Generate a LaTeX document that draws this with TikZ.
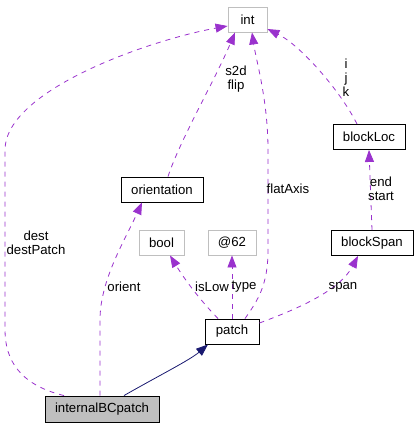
\documentclass[tikz,border=0pt]{standalone}
\usepackage{fontspec}
\setmainfont{Liberation Sans}
\usetikzlibrary{arrows.meta,positioning}
\definecolor{orchid3}{RGB}{154,50,205}
\definecolor{midnight}{RGB}{25,25,112}
\definecolor{grey75}{RGB}{191,191,191}
\tikzset{
  classbox/.style={draw=black, line width=0.9pt, inner sep=0pt,
    minimum height=25pt, align=center, fill=white},
  extbox/.style={classbox, draw=grey75},
  selfbox/.style={classbox, fill=grey75},
  usage/.style={-{Triangle[length=12pt,width=9pt,fill=orchid3]}, draw=orchid3,
    line width=0.8pt, dash pattern=on 5pt off 5pt},
  inherit/.style={-{Triangle[length=12pt,width=9pt,fill=midnight]}, draw=midnight,
    line width=0.8pt},
  elabel/.style={align=center, inner sep=0pt}
}

\begin{document}
\begin{tikzpicture}[x=1pt, y=-1pt, font=\fontsize{13.2}{14}\selectfont]
\useasboundingbox (0,0) rectangle (419,427);

\node[extbox, minimum width=39pt] (int) at (247.5,19.5) {int};
\node[classbox, minimum width=72pt] (blockLoc) at (369,137) {blockLoc};
\node[classbox, minimum width=82pt] (orientation) at (162,189.5) {orientation};
\node[extbox, minimum width=45pt] (bool) at (161.5,242.5) {bool};
\node[extbox, minimum width=48pt] (anon) at (232,242.5) {@62};
\node[classbox, minimum width=82pt] (blockSpan) at (372,243) {blockSpan};
\node[classbox, minimum width=54pt] (patch) at (232,331.5) {patch};
\node[selfbox, minimum width=114pt, minimum height=26pt] (bcpatch) at (102,409) {internalBCpatch};

% inheritance
\draw[inherit] (bcpatch.north -| 124,0) .. controls (160,375) and (190,360) .. (patch.south west -| 208,0);

% members
\draw[usage] (bcpatch.north -| 64,0) .. controls (20,385) and (5,360) .. (5,330)
  -- (5,150) .. controls (5,90) and (150,40) .. (int.west |- 0,26);
\node[elabel] (l-dest) at (36,243) {dest\\destPatch};

\draw[usage] (bcpatch.north -| 100,0) -- (100,320) .. controls (100,280) and (125,240) .. (orientation.south -| 142,0);
\node[elabel] (l-orient) at (124,287) {orient};

\draw[usage] (orientation.north -| 168,0) .. controls (180,140) and (215,80) .. (int.south -| 235,0);
\node[elabel] (l-s2d) at (236,79) {s2d\\flip};

\draw[usage] (patch.north -| 245,0) .. controls (258,300) and (268,285) .. (268,250)
  -- (268,150) .. controls (268,100) and (256,60) .. (int.south -| 252,0);
\node[elabel] (l-flat) at (288,189) {flatAxis};

\draw[usage] (patch.north -| 218,0) .. controls (200,300) and (185,280) .. (bool.south -| 170,0);
\node[elabel] (l-low) at (212,287) {isLow};

\draw[usage] (patch.north) -- (anon.south);
\node[elabel] (l-type) at (244,287) {type};

\draw[usage] (patch.east |- 0,323) .. controls (300,308) and (340,290) .. (blockSpan.south -| 358,0);
\node[elabel] (l-span) at (343,287) {span};

\draw[usage] (blockSpan.north -| 372,0) -- (blockLoc.south -| 369,0);
\node[elabel] (l-end) at (381,189) {end\\start};

\draw[usage] (blockLoc.north -| 357,0) .. controls (340,90) and (300,45) .. (int.south east |- 0,29);
\node[elabel] (l-ijk) at (346,78) {i\\j\\k};
\end{tikzpicture}
\end{document}
